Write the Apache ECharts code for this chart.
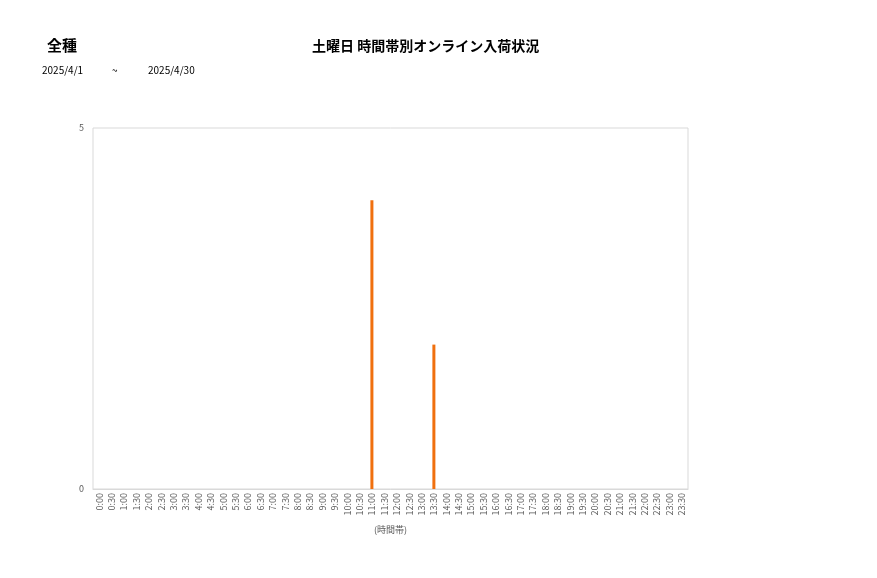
<!DOCTYPE html>
<html>
<head>
<meta charset="utf-8">
<script src="https://cdn.jsdelivr.net/npm/echarts@6/dist/echarts.min.js"></script>
<style>
  html, body { margin: 0; padding: 0; background: #fff; }
  #chart { width: 877px; height: 578px; }
</style>
</head>
<body>
<div id="chart"></div>
<script>
// half-hour slots 0:00 .. 23:30
var slots = ['0:00','0:30','1:00','1:30','2:00','2:30','3:00','3:30','4:00','4:30',
  '5:00','5:30','6:00','6:30','7:00','7:30','8:00','8:30','9:00','9:30',
  '10:00','10:30','11:00','11:30','12:00','12:30','13:00','13:30','14:00','14:30',
  '15:00','15:30','16:00','16:30','17:00','17:30','18:00','18:30','19:00','19:30',
  '20:00','20:30','21:00','21:30','22:00','22:30','23:00','23:30'];
var arrivals = [0,0,0,0,0,0,0,0,0,0,
  0,0,0,0,0,0,0,0,0,0,
  0,0,4,0,0,0,0,2,0,0,
  0,0,0,0,0,0,0,0,0,0,
  0,0,0,0,0,0,0,0];
var yTicks = [0, 5];

var chart = echarts.init(document.getElementById('chart'));
var font = '"Noto Sans CJK JP", "Noto Sans", sans-serif';

var option = {
  animation: false,
  textStyle: { fontFamily: font },
  title: [
    { text: '全種', left: 42, top: 33, textStyle: { fontSize: 15, fontWeight: 'bold', color: '#000' } },
    { text: '土曜日 時間帯別オンライン入荷状況', left: 307, top: 34, textStyle: { fontSize: 14, fontWeight: 'bold', color: '#000' } }
  ],
  graphic: [
    { type: 'text', left: 42, top: 65, style: { text: '2025/4/1', fontSize: 10, fill: '#000', fontFamily: font } },
    { type: 'text', left: 112, top: 65, style: { text: '~', fontSize: 10, fill: '#000', fontFamily: font } },
    { type: 'text', left: 148, top: 65, style: { text: '2025/4/30', fontSize: 10, fill: '#000', fontFamily: font } }
  ],
  grid: {
    left: 93, right: 189, top: 128, bottom: 89,
    show: true, borderColor: '#d9d9d9', borderWidth: 1
  },
  xAxis: {
    type: 'category',
    data: slots,
    name: '(時間帯)',
    nameLocation: 'middle',
    nameGap: 36,
    nameTextStyle: { fontSize: 9, color: '#595959' },
    axisLine: { lineStyle: { color: '#d9d9d9' } },
    axisTick: { show: false },
    axisLabel: { interval: 0, rotate: 90, fontSize: 9, color: '#595959', margin: 4 }
  },
  yAxis: {
    type: 'value',
    min: yTicks[0],
    max: yTicks[1],
    interval: yTicks[1] - yTicks[0],
    axisLine: { show: false },
    axisTick: { show: false },
    splitLine: { show: false },
    axisLabel: { fontSize: 9, color: '#595959', margin: 9 }
  },
  series: [{
    type: 'bar',
    data: arrivals,
    barWidth: 3,
    itemStyle: { color: '#F0700F' }
  }]
};

chart.setOption(option);
</script>
</body>
</html>
